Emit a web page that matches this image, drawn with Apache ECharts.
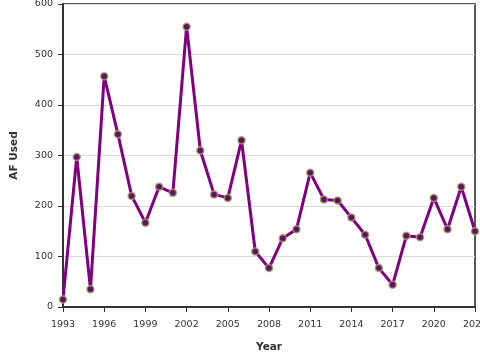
<!DOCTYPE html>
<html><head><meta charset="utf-8">
<script src="https://cdn.jsdelivr.net/npm/echarts@6/dist/echarts.min.js"></script>
<style>html,body{margin:0;padding:0;background:#fff}#c{width:480px;height:360px}</style>
</head><body><div id="c"></div>
<script>
const years = ['1993','1994','1995','1996','1997','1998','1999','2000','2001','2002','2003','2004','2005','2006','2007','2008','2009','2010','2011','2012','2013','2014','2015','2016','2017','2018','2019','2020','2021','2022','2023'];
const afUsed = [15,297,35,457,342,220,167,238,226,555,310,223,216,330,110,77,136,154,266,213,211,177,143,77,44,141,138,216,154,238,150];
const yTicks = {min:0, max:600, step:100};
const font = 'DejaVu Sans';
const chart = echarts.init(document.getElementById('c'), null, {renderer:'canvas'});
chart.setOption({
  animation:false,
  backgroundColor:'#fff',
  grid:{left:63,right:5,top:4,bottom:53,containLabel:false,outerBoundsMode:'none',show:true,borderColor:'#222',borderWidth:1.5,backgroundColor:'transparent'},
  xAxis:{
    type:'category', data:years, boundaryGap:false,
    name:'Year', nameLocation:'middle', nameGap:35,
    nameTextStyle:{fontFamily:font,fontWeight:'bold',fontSize:10.5,color:'#333'},
    axisLine:{lineStyle:{color:'#333',width:2}},
    axisTick:{interval:2,length:5,lineStyle:{color:'#333',width:1}},
    axisLabel:{interval:2,fontFamily:font,fontSize:9.5,color:'#333',margin:13,hideOverlap:false},
    splitLine:{show:false}
  },
  yAxis:{
    type:'value', min:yTicks.min, max:yTicks.max, interval:yTicks.step,
    name:'AF Used', nameLocation:'middle', nameGap:43,
    nameTextStyle:{fontFamily:font,fontWeight:'bold',fontSize:10.5,color:'#333'},
    axisLine:{show:true,lineStyle:{color:'#333',width:2}},
    axisTick:{show:true,length:5,lineStyle:{color:'#333',width:1}},
    axisLabel:{fontFamily:font,fontSize:9.5,color:'#333',margin:10},
    splitLine:{lineStyle:{color:'#dcdcdc',width:1}}
  },
  series:[{
    type:'line', data:afUsed,
    lineStyle:{color:'#800080',width:3},
    symbol:'circle', symbolSize:7,
    itemStyle:{color:'#5a165a',borderColor:'rgba(170,150,110,0.85)',borderWidth:1.5},
    z:3
  }]
});
</script></body></html>
